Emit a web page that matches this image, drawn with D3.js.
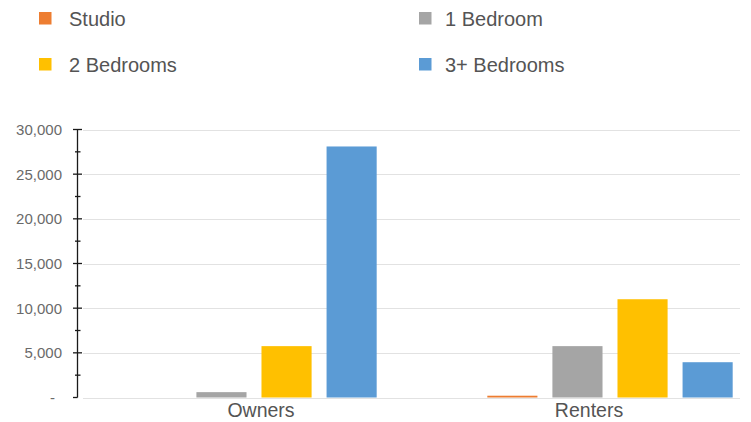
<!DOCTYPE html>
<html>
<head>
<meta charset="utf-8">
<script src="https://cdn.jsdelivr.net/npm/d3@7"></script>
<style>
  html, body { margin: 0; padding: 0; background: #fff; }
  svg { display: block; font-family: "Liberation Sans", Arial, Helvetica, sans-serif; }
</style>
</head>
<body>
<svg id="chart" width="751" height="422"></svg>
<script>
// Housing units by tenure and bedroom count
const groups = ["Owners", "Renters"];
const series = ["Studio", "1 Bedroom", "2 Bedrooms", "3+ Bedrooms"];
const colors = ["#ED7D31", "#A5A5A5", "#FFC000", "#5B9BD5"];
const ownersValues = [0, 600, 5750, 28100];
const rentersValues = [200, 5750, 11000, 3950];
const yTicks = [0, 5000, 10000, 15000, 20000, 25000, 30000];

const valuesByGroup = { Owners: ownersValues, Renters: rentersValues };
const rows = groups.flatMap(g => series.map((s, i) => ({ group: g, series: s, value: valuesByGroup[g][i], color: colors[i] })));

const svg = d3.select("#chart");
const textColor = "#545454";

// Scales
const y = d3.scaleLinear().domain([0, 30000]).range([397.5, 129.5]);
const x0 = d3.scaleBand().domain(groups).range([76, 788]);
const x1 = d3.scaleBand().domain(series).range([0, x0.bandwidth()])
  .paddingInner(0.23).paddingOuter(0.85);
const xLabel = d3.scaleBand().domain(groups).range([97, 753]);

const gridLeft = 83, gridRight = 740;

// Horizontal gridlines
svg.append("g")
  .selectAll("line")
  .data(yTicks)
  .join("line")
  .attr("x1", gridLeft).attr("x2", gridRight)
  .attr("y1", d => Math.round(y(d)) + 0.5)
  .attr("y2", d => Math.round(y(d)) + 0.5)
  .attr("stroke", "#e2e2e2")
  .attr("stroke-width", 1.2);

// Bars
svg.append("g")
  .selectAll("rect")
  .data(rows)
  .join("rect")
  .attr("x", d => x0(d.group) + x1(d.series))
  .attr("width", x1.bandwidth())
  .attr("y", d => y(d.value))
  .attr("height", d => y(0) - y(d.value))
  .attr("fill", d => d.color);

// Y axis: major ticks every 5,000, minor ticks halfway between
const axisX = 77.5;
const axis = svg.append("g").attr("stroke", "#1a1a1a").attr("stroke-width", 1.3);
axis.append("line")
  .attr("x1", axisX).attr("x2", axisX)
  .attr("y1", y(30000)).attr("y2", y(0));
axis.selectAll(".major")
  .data(yTicks)
  .join("line")
  .attr("class", "major")
  .attr("x1", axisX - 4.5)
  .attr("x2", d => d === 0 ? axisX : axisX + 4.5)
  .attr("y1", d => y(d)).attr("y2", d => y(d));
const minorTicks = d3.range(2500, 30000, 5000);
axis.selectAll(".minor")
  .data(minorTicks)
  .join("line")
  .attr("class", "minor")
  .attr("x1", axisX - 2.5).attr("x2", axisX + 3)
  .attr("y1", d => y(d)).attr("y2", d => y(d));

// Tick labels (zero shown as a dash, accounting style)
const fmt = d3.format(",");
svg.append("g")
  .selectAll("text")
  .data(yTicks)
  .join("text")
  .attr("x", d => d === 0 ? 55 : 62)
  .attr("y", d => y(d))
  .attr("dy", "0.36em")
  .attr("text-anchor", "end")
  .attr("font-size", 15)
  .attr("fill", "#6a6a6a")
  .text(d => d === 0 ? "-" : fmt(d));

// Category labels
svg.append("g")
  .selectAll("text")
  .data(groups)
  .join("text")
  .attr("x", d => xLabel(d) + xLabel.bandwidth() / 2)
  .attr("y", 417)
  .attr("text-anchor", "middle")
  .attr("font-size", 19.5)
  .attr("fill", textColor)
  .text(d => d);

// Legend: two columns, two rows
const legend = svg.append("g")
  .selectAll("g")
  .data(series)
  .join("g")
  .attr("transform", (d, i) => `translate(0, ${Math.floor(i / 2) * 46})`);
legend.append("rect")
  .attr("x", (d, i) => i % 2 ? 419 : 39)
  .attr("y", 12)
  .attr("width", 12.5).attr("height", 12.5)
  .attr("fill", (d, i) => colors[i]);
legend.append("text")
  .attr("x", (d, i) => i % 2 ? 445 : 69)
  .attr("y", 25.5)
  .attr("font-size", 20)
  .attr("fill", textColor)
  .text(d => d);
</script>
</body>
</html>
